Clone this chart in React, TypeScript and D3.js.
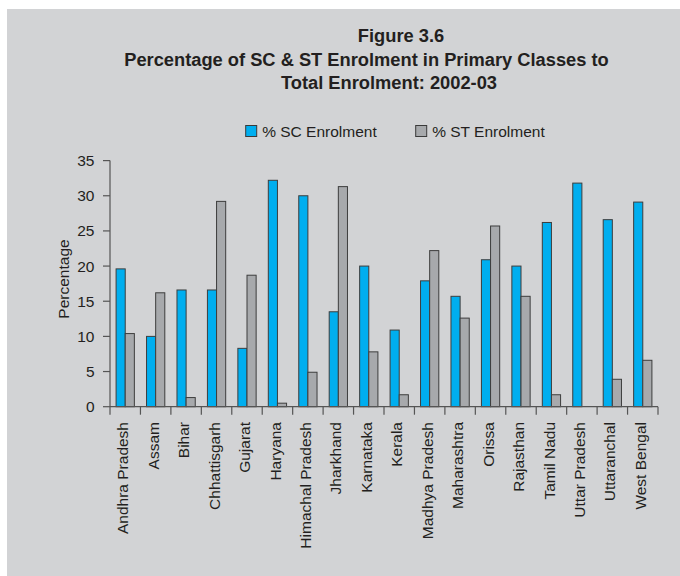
import React from "react";
import * as d3 from "d3";

const states = [
  "Andhra Pradesh", "Assam", "Bihar", "Chhattisgarh", "Gujarat", "Haryana",
  "Himachal Pradesh", "Jharkhand", "Karnataka", "Kerala", "Madhya Pradesh",
  "Maharashtra", "Orissa", "Rajasthan", "Tamil Nadu", "Uttar Pradesh",
  "Uttaranchal", "West Bengal",
];
const scEnrolment = [19.6, 10.0, 16.6, 16.6, 8.3, 32.2, 30.0, 13.5, 20.0, 10.9, 17.9, 15.7, 20.9, 20.0, 26.2, 31.8, 26.6, 29.1];
const stEnrolment = [10.4, 16.2, 1.3, 29.2, 18.7, 0.5, 4.9, 31.3, 7.8, 1.7, 22.2, 12.6, 25.7, 15.7, 1.7, 0, 3.9, 6.6];
const seriesNames = ["% SC Enrolment", "% ST Enrolment"];
const seriesColors = ["#00AEEF", "#A7A9AC"];
const yTicks = [0, 5, 10, 15, 20, 25, 30, 35];
const titleLines = [
  "Figure 3.6",
  "Percentage of SC & ST Enrolment in Primary Classes to",
  "Total Enrolment: 2002-03",
];

const FONT = "'Liberation Sans', Arial, Helvetica, sans-serif";
const TEXT = "#231F20";

export default function App() {
  const left = 110, right = 658, top = 160.6, bottom = 406.7;
  const x = d3.scaleBand<string>().domain(states).range([left, right]).paddingInner(0).paddingOuter(0);
  const bw = x.bandwidth();
  const barW = bw * 0.3;
  const inner = d3.scaleOrdinal<number, number>().domain([0, 1]).range([bw / 2 - barW, bw / 2]);
  const y = d3.scaleLinear().domain([0, 35]).range([bottom, top]);
  const series = [scEnrolment, stEnrolment];

  const titleX = [401, 366.5, 389];
  const titleY = [42, 65.7, 89];
  const legendX = [245.7, 415.7];

  return (
    <svg width={680} height={576} style={{ position: "absolute", left: 0, top: 0 }} fontFamily={FONT}>
      <rect x={7} y={9} width={673} height={567} fill="#D2D3D5" />
      {titleLines.map((t, i) => (
        <text key={i} x={titleX[i]} y={titleY[i]} textAnchor="middle" fontWeight="bold" fontSize={18.3} fill={TEXT}>
          {t}
        </text>
      ))}
      {seriesNames.map((n, i) => (
        <g key={n}>
          <rect x={legendX[i]} y={125.5} width={11} height={11} fill={seriesColors[i]} stroke="#3a3a3a" strokeWidth={1} />
          <text x={legendX[i] + 16.5} y={137} fontSize={15.5} fill={TEXT}>{n}</text>
        </g>
      ))}
      {/* bars */}
      {states.map((s, i) => (
        <g key={s}>
          {series.map((vals, k) =>
            vals[i] > 0 ? (
              <rect
                key={k}
                x={(x(s) as number) + (inner(k) as number)}
                y={y(vals[i])}
                width={barW}
                height={bottom - y(vals[i])}
                fill={seriesColors[k]}
                stroke="#3d3d3d"
                strokeWidth={1}
              />
            ) : null
          )}
        </g>
      ))}
      {/* y axis */}
      <line x1={left} x2={left} y1={top} y2={bottom} stroke="#555" strokeWidth={1.2} />
      {yTicks.map((t) => (
        <g key={t}>
          <line x1={left - 7} x2={left} y1={y(t)} y2={y(t)} stroke="#555" strokeWidth={1.2} />
          <text x={94.5} y={y(t)} dy="0.36em" textAnchor="end" fontSize={15.5} fill={TEXT}>{t}</text>
        </g>
      ))}
      <text transform={`translate(69,279) rotate(-90)`} textAnchor="middle" fontSize={15.5} fill={TEXT}>Percentage</text>
      {/* x axis */}
      <line x1={left} x2={right} y1={bottom} y2={bottom} stroke="#555" strokeWidth={1.2} />
      {[...states.map((s) => x(s) as number), right].map((px, i) => (
        <line key={i} x1={px} x2={px} y1={bottom} y2={bottom + 8} stroke="#555" strokeWidth={1.2} />
      ))}
      {states.map((s) => (
        <text
          key={s}
          transform={`translate(${(x(s) as number) + bw / 2 - 2.5},422) rotate(-90)`}
          dy="0.36em"
          textAnchor="end"
          fontSize={15.5}
          fill={TEXT}
        >
          {s}
        </text>
      ))}
    </svg>
  );
}
